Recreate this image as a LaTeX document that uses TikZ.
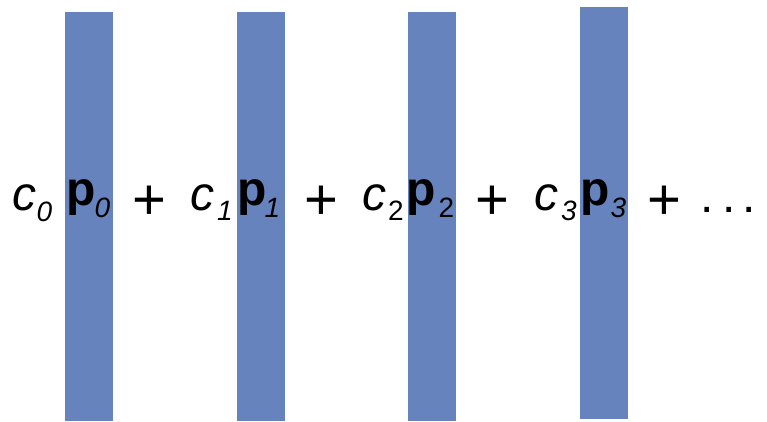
\documentclass[tikz,border=0pt]{standalone}
\usepackage{fontspec}
\setmainfont{Liberation Sans}
\definecolor{barblue}{HTML}{6683BE}
\begin{document}
\begin{tikzpicture}[x=1pt,y=-1pt,
  bar/.style={fill=barblue,draw=none},
  big/.style={inner sep=0pt,anchor=base,font=\fontsize{48}{48}\selectfont},
  plussign/.style={inner sep=0pt,anchor=base,font=\fontsize{58}{58}\selectfont},
  sub/.style={inner sep=0pt,anchor=base,font=\fontsize{28}{28}\selectfont}]
\useasboundingbox (0,0) rectangle (767,421);
\fill[bar] (65,12) rectangle (113,421);
\fill[bar] (237,12) rectangle (285,421);
\fill[bar] (408,12) rectangle (456,421);
\fill[bar] (580,7) rectangle (628,419);
% term 0
\node[big] (c0) at (24.5,210) {\itshape c};
\node[sub] (c0s) at (44.5,221) {\itshape 0};
\node[big] (p0) at (81.5,205) {\bfseries p};
\node[sub] (p0s) at (102.5,217) {\itshape 0};
\node[plussign] (plus0) at (149.5,219) {+};
% term 1
\node[big] (c1) at (202.5,210) {\itshape c};
\node[sub] (c1s) at (225,220) {\itshape 1};
\node[big] (p1) at (252,205) {\bfseries p};
\node[sub] (p1s) at (272.5,217) {\itshape 1};
\node[plussign] (plus1) at (321.5,219) {+};
% term 2
\node[big] (c2) at (374,210) {\itshape c};
\node[sub] (c2s) at (396,220) {2};
\node[big] (p2) at (421.5,205) {\bfseries p};
\node[sub] (p2s) at (446.5,217) {2};
\node[plussign] (plus2) at (492.5,219) {+};
% term 3
\node[big] (c3) at (546.5,210) {\itshape c};
\node[sub] (c3s) at (569,220) {\itshape 3};
\node[big] (p3) at (595.5,205) {\bfseries p};
\node[sub] (p3s) at (618.5,217) {\itshape 3};
\node[plussign] (plus3) at (664.5,219) {+};
% dots
\node[big] (d1) at (707.5,212) {.};
\node[big] (d2) at (729,212) {.};
\node[big] (d3) at (749.5,212) {.};
\end{tikzpicture}
\end{document}
